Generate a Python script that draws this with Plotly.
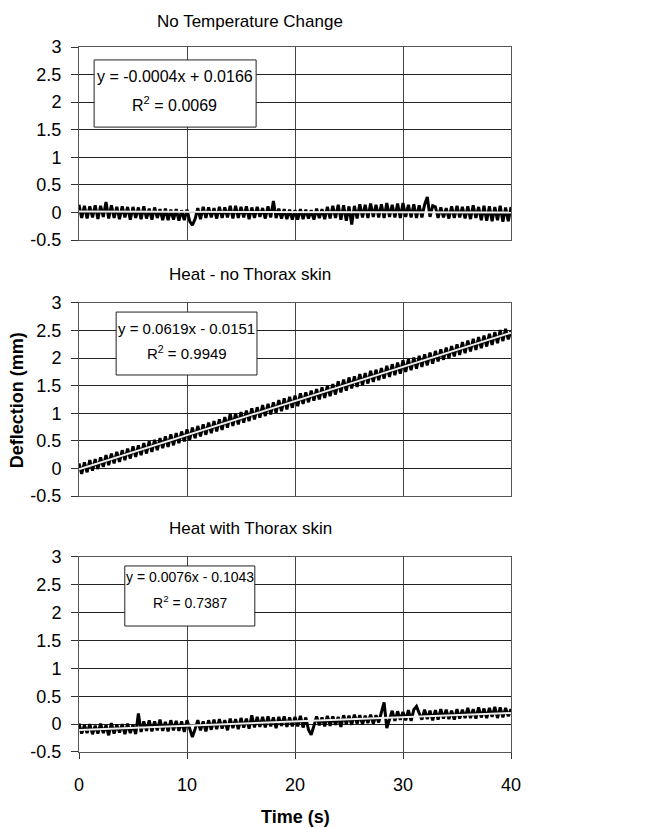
import plotly.graph_objects as go

# time base: one sample every 0.25 s, 0 to 40 s
time_s = [i * 0.25 for i in range(161)]

# deflection (mm), 4 samples per second
no_temp_change = [
    0.14, -0.10, 0.12, -0.11, 0.11, -0.09, 0.13, -0.12, 0.12, -0.08, 0.19, -0.11,
    0.13, -0.10, 0.10, -0.12, 0.11, -0.09, 0.10, -0.13, 0.10, -0.10, 0.09, -0.12,
    0.11, -0.11, 0.07, -0.13, 0.09, -0.10, 0.06, -0.14, 0.07, -0.14, 0.05, -0.13,
    0.06, -0.15, 0.04, -0.14, 0.05, -0.16, -0.23, -0.12, 0.08, -0.12, 0.10, -0.10,
    0.09, -0.09, 0.08, -0.11, 0.10, -0.10, 0.09, -0.09, 0.12, -0.11, 0.12, -0.10,
    0.10, -0.09, 0.11, -0.12, 0.09, -0.10, 0.10, -0.08, 0.08, -0.11, 0.11, -0.09,
    0.21, -0.10, 0.07, -0.11, 0.06, -0.12, 0.05, -0.13, 0.04, -0.13, 0.06, -0.12,
    0.05, -0.11, 0.04, -0.13, 0.07, -0.10, 0.06, -0.12, 0.10, -0.11, 0.12, -0.10,
    0.14, -0.13, 0.13, -0.15, 0.11, -0.22, 0.12, -0.11, 0.15, -0.09, 0.14, -0.10,
    0.16, -0.08, 0.14, -0.09, 0.15, -0.10, 0.17, -0.08, 0.14, -0.09, 0.16, -0.10,
    0.17, -0.08, 0.14, -0.09, 0.15, -0.10, 0.13, -0.09, 0.14, 0.28, -0.08, 0.12,
    0.10, -0.10, 0.09, -0.09, 0.08, -0.11, 0.11, -0.10, 0.12, -0.09, 0.10, -0.11,
    0.11, -0.12, 0.13, -0.10, 0.10, -0.14, 0.12, -0.15, 0.11, -0.16, 0.10, -0.14,
    0.12, -0.17, 0.09, -0.16, 0.10,
]

heat_no_skin = [
    0.09, -0.10, 0.11, -0.07, 0.15, -0.04, 0.17, -0.01, 0.20, 0.03, 0.24, 0.06,
    0.27, 0.09, 0.30, 0.12, 0.33, 0.15, 0.36, 0.18, 0.40, 0.21, 0.42, 0.24,
    0.46, 0.27, 0.49, 0.30, 0.52, 0.33, 0.55, 0.37, 0.58, 0.39, 0.62, 0.42,
    0.64, 0.46, 0.67, 0.49, 0.71, 0.52, 0.74, 0.55, 0.77, 0.58, 0.80, 0.61,
    0.83, 0.64, 0.86, 0.67, 0.89, 0.70, 0.93, 0.74, 0.99, 0.77, 1.00, 0.80,
    1.02, 0.83, 1.05, 0.86, 1.09, 0.89, 1.11, 0.92, 1.15, 0.95, 1.17, 0.98,
    1.20, 1.01, 1.24, 1.04, 1.27, 1.07, 1.30, 1.10, 1.32, 1.13, 1.36, 1.17,
    1.38, 1.20, 1.41, 1.23, 1.44, 1.25, 1.47, 1.28, 1.50, 1.31, 1.53, 1.34,
    1.58, 1.38, 1.61, 1.41, 1.65, 1.45, 1.67, 1.48, 1.71, 1.51, 1.73, 1.54,
    1.77, 1.57, 1.79, 1.60, 1.82, 1.63, 1.86, 1.66, 1.89, 1.69, 1.92, 1.72,
    1.96, 1.75, 1.98, 1.78, 2.01, 1.81, 2.04, 1.84, 2.07, 1.87, 2.10, 1.90,
    2.13, 1.94, 2.16, 1.97, 2.19, 2.00, 2.22, 2.03, 2.25, 2.06, 2.29, 2.09,
    2.32, 2.12, 2.35, 2.15, 2.38, 2.18, 2.41, 2.21, 2.44, 2.24, 2.47, 2.27,
    2.51, 2.31, 2.53, 2.34, 2.50,
]

heat_with_skin = [
    0.01, -0.17, -0.02, -0.16, 0.00, -0.18, -0.03, -0.17, 0.01, -0.16, -0.02, -0.20,
    0.02, -0.17, -0.01, -0.15, 0.00, -0.18, 0.01, -0.16, -0.01, -0.18, 0.19, -0.14,
    0.05, -0.12, 0.07, -0.13, 0.05, -0.11, 0.08, -0.12, 0.04, -0.13, 0.07, -0.11,
    0.06, -0.12, 0.05, -0.14, 0.07, -0.10, -0.23, -0.09, 0.07, -0.11, 0.05, -0.13,
    0.07, -0.10, 0.08, -0.09, 0.09, -0.08, 0.07, -0.11, 0.10, -0.07, 0.09, -0.09,
    0.11, -0.06, 0.10, -0.08, 0.16, -0.06, 0.13, -0.05, 0.13, -0.06, 0.14, -0.04,
    0.12, -0.07, 0.13, -0.03, 0.14, -0.05, 0.12, -0.04, 0.13, -0.04, 0.15, -0.06,
    0.12, -0.10, -0.19, -0.03, 0.14, -0.02, 0.12, -0.04, 0.15, -0.03, 0.14, -0.01,
    0.13, -0.05, 0.16, 0.00, 0.15, -0.01, 0.17, 0.01, 0.16, 0.00, 0.15, 0.02,
    0.17, 0.01, 0.16, 0.03, 0.22, 0.39, -0.07, 0.08, 0.24, 0.06, 0.23, 0.08,
    0.22, 0.07, 0.25, 0.06, 0.26, 0.32, 0.20, 0.08, 0.26, 0.09, 0.24, 0.07,
    0.25, 0.08, 0.27, 0.10, 0.26, 0.09, 0.24, 0.08, 0.27, 0.10, 0.26, 0.11,
    0.29, 0.11, 0.27, 0.10, 0.30, 0.12, 0.28, 0.11, 0.29, 0.13, 0.31, 0.11,
    0.30, 0.12, 0.29, 0.14, 0.27,
]

titles = ["No Temperature Change", "Heat - no Thorax skin", "Heat with Thorax skin"]
series = [no_temp_change, heat_no_skin, heat_with_skin]

# linear trendline fits shown in the chart boxes
slopes = [-0.0004, 0.0619, 0.0076]
intercepts = [0.0166, -0.0151, -0.1043]
r_squared = [0.0069, 0.9949, 0.7387]
eq_labels = ["y = -0.0004x + 0.0166", "y = 0.0619x - 0.0151", "y = 0.0076x - 0.1043"]

x_ticks = [0, 10, 20, 30, 40]
y_ticks = [-0.5, 0, 0.5, 1, 1.5, 2, 2.5, 3]

FONT = "Arial, Liberation Sans, sans-serif"

# panel domains (paper fraction), top to bottom
domains = [[0.7262, 1.0], [0.3631, 0.6369], [0.0, 0.2766]]
title_y = [1.0355, 0.6766, 0.3177]
# equation boxes: x0, x1, y0, y1, line1 y, line2 y, text x, font size (in axis-domain units)
boxes = [
    (0.035, 0.410, 0.585, 0.933, 0.845, 0.705, 0.222, 16),
    (0.086, 0.412, 0.627, 0.953, 0.870, 0.746, 0.249, 15),
    (0.106, 0.407, 0.646, 0.954, 0.897, 0.769, 0.257, 14),
]

fig = go.Figure()
shapes = []
annotations = []


def label(xref, yref, x, y, text, size, **kw):
    return dict(xref=xref, yref=yref, x=x, y=y, text=text, showarrow=False,
                xanchor="center", yanchor="middle",
                font=dict(family=FONT, size=size, color="black"), **kw)


for i in range(3):
    n = "" if i == 0 else str(i + 1)
    xa, ya = "x" + n, "y" + n

    fig.add_trace(go.Scatter(x=time_s, y=series[i], mode="lines",
                             line=dict(color="black", width=3),
                             xaxis=xa, yaxis=ya, showlegend=False))
    trend_x = [time_s[0], time_s[-1]]
    trend_y = [slopes[i] * t + intercepts[i] for t in trend_x]
    fig.add_trace(go.Scatter(x=trend_x, y=trend_y, mode="lines",
                             line=dict(color="#eeeeee", width=2),
                             xaxis=xa, yaxis=ya, showlegend=False))

    fig.update_layout({
        "xaxis" + n: dict(domain=[0, 1], range=[0, 40], tickvals=x_ticks,
                          showticklabels=(i == 2), ticks="outside" if i == 2 else "",
                          ticklen=6, tickcolor="#333", ticklabelstandoff=10,
                          showgrid=True, gridcolor="#444", gridwidth=1,
                          showline=True, linecolor="#555", mirror=True,
                          zeroline=False, anchor=ya,
                          tickfont=dict(family=FONT, size=18, color="black")),
        "yaxis" + n: dict(domain=domains[i], range=[-0.5, 3], tickvals=y_ticks,
                          ticktext=[("%g" % v) for v in y_ticks],
                          ticks="outside", ticklen=7, tickcolor="#333",
                          ticklabelstandoff=6,
                          showgrid=True, gridcolor="#222", gridwidth=1,
                          showline=True, linecolor="#555", mirror=True,
                          zeroline=False, anchor=xa,
                          tickfont=dict(family=FONT, size=18, color="black")),
    })

    x0, x1, y0, y1, l1, l2, tx, fs = boxes[i]
    shapes.append(dict(type="rect", xref=xa + " domain", yref=ya + " domain",
                       x0=x0, x1=x1, y0=y0, y1=y1, fillcolor="white",
                       line=dict(color="#222", width=1), layer="above"))
    annotations.append(label(xa + " domain", ya + " domain", tx, l1, eq_labels[i], fs))
    annotations.append(label(xa + " domain", ya + " domain", tx, l2,
                             "R<sup>2</sup> = %.4f" % r_squared[i], fs))
    annotations.append(label("paper", "paper", 0.396, title_y[i], titles[i], 17))

annotations.append(label("paper", "paper", 0.502, -0.092, "<b>Time (s)</b>", 18))
annotations.append(label("paper", "paper", -0.1435, 0.499, "<b>Deflection (mm)</b>", 18,
                         textangle=-90))

# the page body adds 8 px around the figure, so the figure is 8 px smaller
fig.update_layout(
    width=645, height=820,
    margin=dict(l=71, r=142, t=39, b=76),
    paper_bgcolor="white", plot_bgcolor="white",
    shapes=shapes, annotations=annotations,
    font=dict(family=FONT, color="black"),
)

fig.write_html("out.html")
